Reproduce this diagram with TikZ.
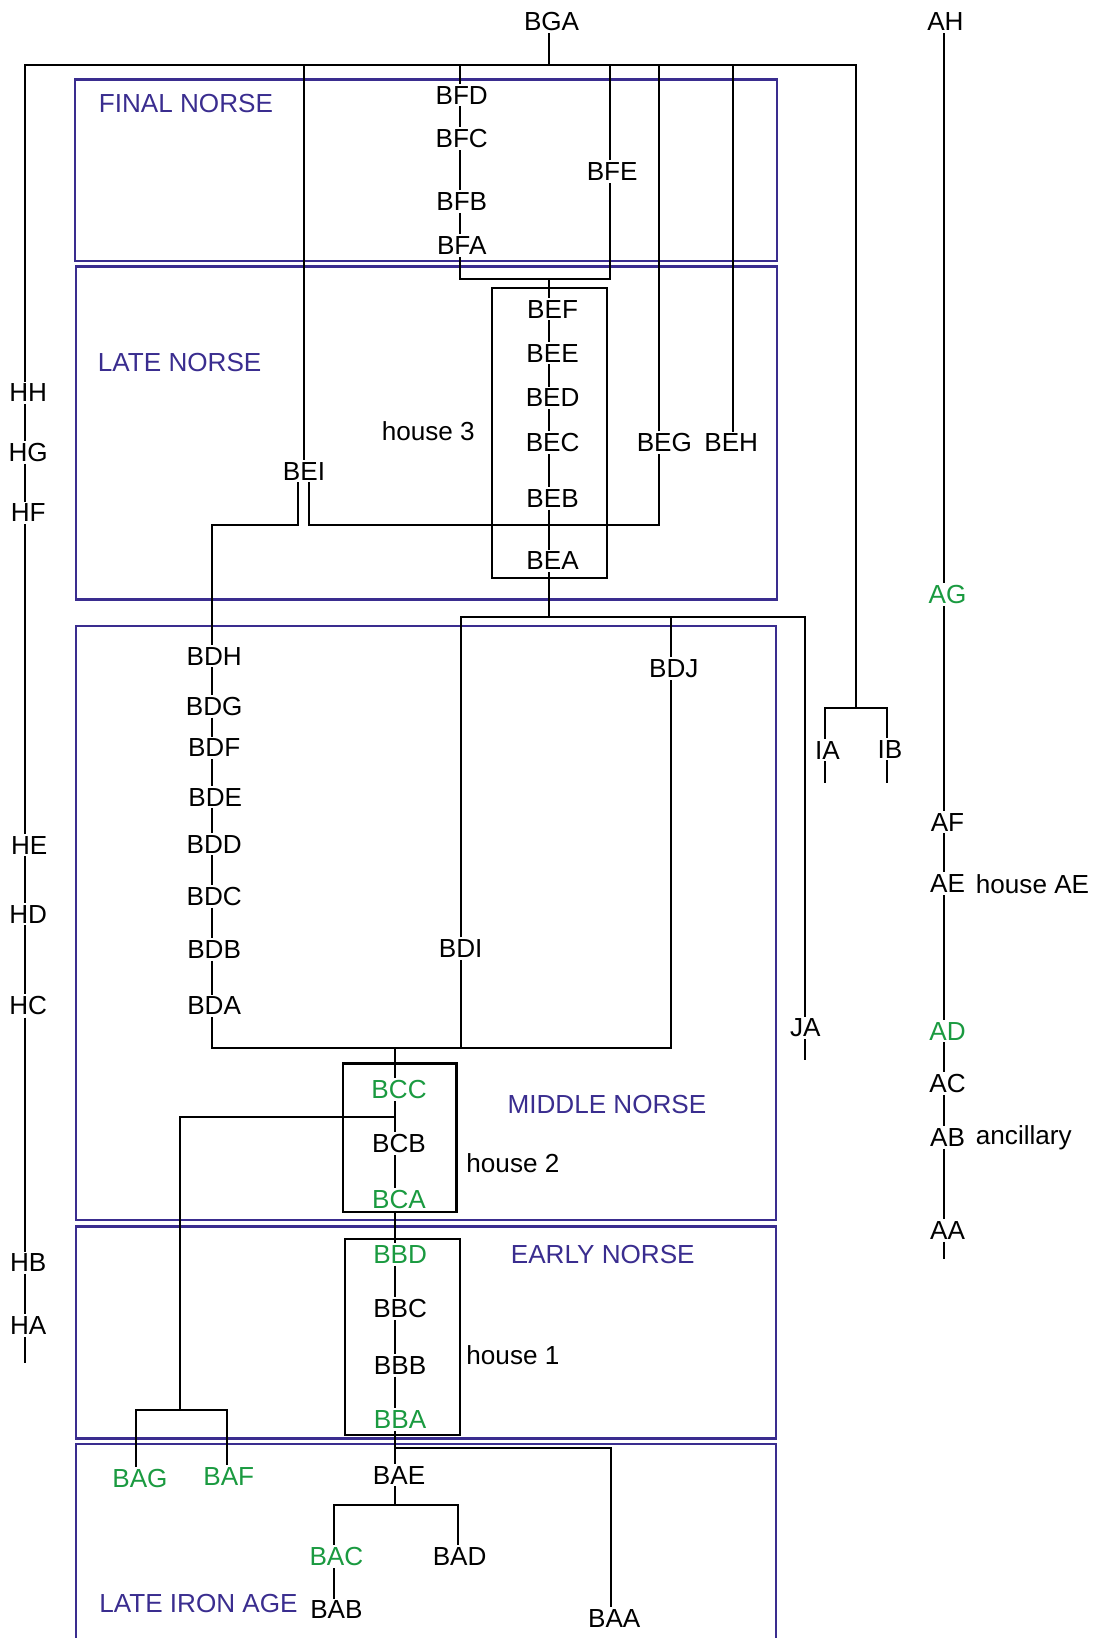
\documentclass[tikz,border=0pt]{standalone}
\usepackage{fontspec}
\setmainfont{Liberation Sans}
\definecolor{phase}{RGB}{58,45,143}
\definecolor{grn}{RGB}{26,154,64}
\begin{document}
\begin{tikzpicture}[x=1pt,y=-1pt,
  lbl/.style={inner sep=2pt,font=\fontsize{25}{28}\selectfont},
  g/.style={lbl,text=grn},
  ph/.style={inner sep=0pt,font=\fontsize{25}{28}\selectfont,text=phase},
  phbox/.style={draw=phase,line width=2.2pt},
  hbox/.style={draw=black,line width=2pt},
  con/.style={line width=1.9pt}]
\useasboundingbox (0,0) rectangle (1053,1568);
\begin{scope}
\clip (0,0) rectangle (1053,1568);
% phase boxes
\draw[phbox] (72,76) rectangle (744,250);
\draw[phbox] (73,255) rectangle (744,574);
\draw[phbox] (73,599) rectangle (743,1168);
\draw[phbox] (73,1174) rectangle (743,1377);
\draw[phbox] (73,1382) rectangle (743,1600);
\end{scope}
\node[ph] (pFN) at (178,99) {FINAL NORSE};
\node[ph] (pLN) at (172,347) {LATE NORSE};
\node[ph] (pMN) at (581,1057) {MIDDLE NORSE};
\node[ph] (pEN) at (577,1201) {EARLY NORSE};
\node[ph] (pLI) at (190,1535) {LATE IRON AGE};
% house boxes
\draw[hbox] (471,276) rectangle (581,553);
\draw[hbox] (328,1018) rectangle (437,1160);
\draw[hbox] (330,1186) rectangle (440,1374);
\node[lbl] (h3) at (410,413) {house 3};
\node[lbl] (h2) at (491,1113) {house 2};
\node[lbl] (h1) at (491,1297) {house 1};
% top
\node[lbl] (BGA) at (528,21) {BGA};
% final norse
\node[lbl] (BFD) at (442,91) {BFD};
\node[lbl] (BFC) at (442,133) {BFC};
\node[lbl] (BFB) at (442,193) {BFB};
\node[lbl] (BFA) at (442,235) {BFA};
\node[lbl] (BFE) at (586,164) {BFE};
% late norse
\node[lbl] (BEF) at (529,296) {BEF};
\node[lbl] (BEE) at (529,338) {BEE};
\node[lbl] (BED) at (529,381) {BED};
\node[lbl] (BEC) at (529,424) {BEC};
\node[lbl] (BEB) at (529,477) {BEB};
\node[lbl] (BEA) at (529,537) {BEA};
\node[lbl] (BEI) at (291,451) {BEI};
\node[lbl] (BEG) at (636,424) {BEG};
\node[lbl] (BEH) at (700,424) {BEH};
% middle norse
\node[lbl] (BDH) at (205,628) {BDH};
\node[lbl] (BDG) at (205,676) {BDG};
\node[lbl] (BDF) at (205,716) {BDF};
\node[lbl] (BDE) at (206,763) {BDE};
\node[lbl] (BDD) at (205,808) {BDD};
\node[lbl] (BDC) at (205,858) {BDC};
\node[lbl] (BDB) at (205,909) {BDB};
\node[lbl] (BDA) at (205,963) {BDA};
\node[lbl] (BDI) at (441,908) {BDI};
\node[lbl] (BDJ) at (645,640) {BDJ};
\node[g] (BCC) at (382,1043) {BCC};
\node[lbl] (BCB) at (382,1095) {BCB};
\node[g] (BCA) at (382,1148) {BCA};
% early norse
\node[g] (BBD) at (383,1201) {BBD};
\node[lbl] (BBC) at (383,1253) {BBC};
\node[lbl] (BBB) at (383,1307) {BBB};
\node[g] (BBA) at (383,1359) {BBA};
% late iron age
\node[lbl] (BAE) at (382,1412) {BAE};
\node[g] (BAG) at (134,1415) {BAG};
\node[g] (BAF) at (219,1413) {BAF};
\node[g] (BAC) at (322,1490) {BAC};
\node[lbl] (BAD) at (440,1490) {BAD};
\node[lbl] (BAB) at (322,1541) {BAB};
\node[lbl] (BAA) at (588,1549) {BAA};
% right side
\node[lbl] (IA) at (792,718) {IA};
\node[lbl] (IB) at (852,717) {IB};
\node[lbl] (JA) at (771,984) {JA};
% H column
\node[lbl] (HH) at (27,376) {HH};
\node[lbl] (HG) at (27,433) {HG};
\node[lbl] (HF) at (27,491) {HF};
\node[lbl] (HE) at (28,809) {HE};
\node[lbl] (HD) at (27,875) {HD};
\node[lbl] (HC) at (27,963) {HC};
\node[lbl] (HB) at (27,1209) {HB};
\node[lbl] (HA) at (27,1269) {HA};
% A column
\node[lbl] (AH) at (905,21) {AH};
\node[g] (AG) at (907,569) {AG};
\node[lbl] (AF) at (907,787) {AF};
\node[lbl] (AE) at (907,846) {AE};
\node[lbl,anchor=west,inner sep=0pt] (hAE) at (934,846) {house AE};
\node[g] (AD) at (907,987) {AD};
\node[lbl] (AC) at (907,1037) {AC};
\node[lbl] (AB) at (907,1089) {AB};
\node[lbl,anchor=west,inner sep=0pt] (anc) at (934,1089) {ancillary};
\node[lbl] (AA) at (907,1178) {AA};
% coordinates
\coordinate (tl) at (24,62);
\coordinate (tr) at (819,62);
\coordinate (jI) at (819,678);
\coordinate (jF) at (526,267);
\coordinate (jD) at (526,591);
\coordinate (hE) at (0,503);
\coordinate (hB) at (0,1003);
\coordinate (jB) at (378,1003);
\coordinate (jC) at (378,1069);
\coordinate (jG) at (172,1350);
\coordinate (jA) at (378,1386);
\coordinate (jE) at (378,1441);
\coordinate (HAe) at (24,1305);
\coordinate (AAe) at (904,1205);
\coordinate (JAe) at (771,1015);
\coordinate (IAe) at (790,750);
\coordinate (IBe) at (849,750);
\coordinate (vF) at (440,0);
\coordinate (vE) at (584,0);
\coordinate (vG) at (631,0);
\coordinate (vH) at (702,0);
\coordinate (vD) at (203,0);
\coordinate (vJ) at (642,0);
% connectors
\begin{scope}[con]
\draw (HH.north -| tl) -- (tl) -- (tr) -- (jI);
\draw (BGA.south -| jF) -- (jF |- tl);
\draw (BEI) -- (BEI |- tl);
\draw (BFD.north -| vF) -- (vF |- tl);
\draw (BFE.north -| vE) -- (vE |- tl);
\draw (BEG.north -| vG) -- (vG |- tl);
\draw (BEH.north -| vH) -- (vH |- tl);
\draw (IA.north -| IAe) |- (jI) -| (IB.north -| IBe);
\draw (IA.south -| IAe) -- (IAe);
\draw (IB.south -| IBe) -- (IBe);
% final norse chain
\draw (BFD.south -| vF) -- (BFC.north -| vF);
\draw (BFC.south -| vF) -- (BFB.north -| vF);
\draw (BFB.south -| vF) -- (BFA.north -| vF);
\draw (BFA.south -| vF) |- (jF) -| (BFE.south -| vE);
\draw (jF) -- (BEF.north -| jF);
% late norse chain
\draw (BEF.south -| jF) -- (BEE.north -| jF);
\draw (BEE.south -| jF) -- (BED.north -| jF);
\draw (BED.south -| jF) -- (BEC.north -| jF);
\draw (BEC.south -| jF) -- (BEB.north -| jF);
\draw (BEB.south -| jF) -- (BEA.north -| jF);
\draw (BEA.south -| jF) -- (jD);
\draw ([xshift=-6pt]BEI.south) |- (vD |- hE) -- (BDH.north -| vD);
\draw ([xshift=5pt]BEI.south) |- (vG |- hE) -- (BEG.south -| vG);
% middle norse
\draw (BDI) |- (jD) -| (JA);
\draw (BDJ.north -| vJ) -- (vJ |- jD);
\draw (BDH.south -| vD) -- (BDG.north -| vD);
\draw (BDG.south -| vD) -- (BDF.north -| vD);
\draw (BDF.south -| vD) -- (BDE.north -| vD);
\draw (BDE.south -| vD) -- (BDD.north -| vD);
\draw (BDD.south -| vD) -- (BDC.north -| vD);
\draw (BDC.south -| vD) -- (BDB.north -| vD);
\draw (BDB.south -| vD) -- (BDA.north -| vD);
\draw (BDA.south -| vD) |- (vJ |- hB) -- (BDJ.south -| vJ);
\draw (BDI) -- (BDI |- hB);
\draw (jB) -- (BCC.north -| jB);
\draw (BCC.south -| jB) -- (BCB.north -| jB);
\draw (BCB.south -| jB) -- (BCA.north -| jB);
\draw (jC) -| (jG);
\draw (BAG.north -| 130,0) |- (jG) -| (BAF.north -| 217,0);
% early norse
\draw (BCA.south -| jB) -- (BBD.north -| jB);
\draw (BBD.south -| jB) -- (BBC.north -| jB);
\draw (BBC.south -| jB) -- (BBB.north -| jB);
\draw (BBB.south -| jB) -- (BBA.north -| jB);
\draw (BBA.south -| jB) -- (BAE.north -| jB);
\draw (jA) -| (BAA.north -| 585,0);
\draw (BAE.south -| jB) -- (jE);
\draw (BAC.north -| 320,0) |- (jE) -| (BAD.north -| 438,0);
\draw (BAC.south -| 320,0) -- (BAB.north -| 320,0);
% H chain
\draw (HH.south -| tl) -- (HG.north -| tl);
\draw (HG.south -| tl) -- (HF.north -| tl);
\draw (HF.south -| tl) -- (HE.north -| tl);
\draw (HE.south -| tl) -- (HD.north -| tl);
\draw (HD.south -| tl) -- (HC.north -| tl);
\draw (HC.south -| tl) -- (HB.north -| tl);
\draw (HB.south -| tl) -- (HA.north -| tl);
\draw (HA.south -| tl) -- (HAe);
% A chain
\draw (AH.south -| AAe) -- (AG.north -| AAe);
\draw (AG.south -| AAe) -- (AF.north -| AAe);
\draw (AF.south -| AAe) -- (AE.north -| AAe);
\draw (AE.south -| AAe) -- (AD.north -| AAe);
\draw (AD.south -| AAe) -- (AC.north -| AAe);
\draw (AC.south -| AAe) -- (AB.north -| AAe);
\draw (AB.south -| AAe) -- (AA.north -| AAe);
\draw (AA.south -| AAe) -- (AAe);
\draw (JA) -- (JAe);
\end{scope}
\end{tikzpicture}
\end{document}
